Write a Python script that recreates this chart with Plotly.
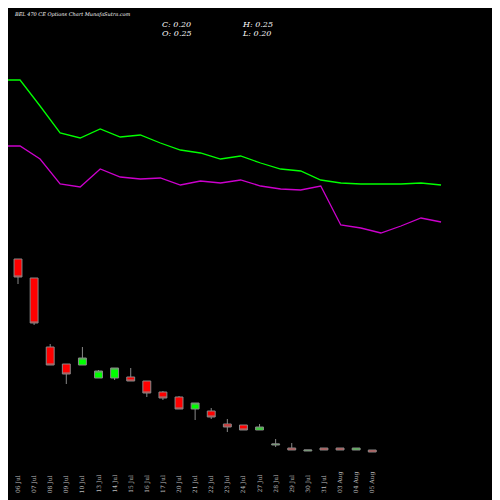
import plotly.graph_objects as go

dates = ["06 Jul","07 Jul","08 Jul","09 Jul","10 Jul","13 Jul","14 Jul","15 Jul","16 Jul","17 Jul",
         "20 Jul","21 Jul","22 Jul","23 Jul","24 Jul","27 Jul","28 Jul","29 Jul","30 Jul","31 Jul",
         "03 Aug","04 Aug","05 Aug"]
opens  = [5.075,4.6,2.875,2.45,2.425,2.1,2.1,2.125,2.025,1.75,1.625,1.325,1.275,0.95,0.925,0.8,0.425,0.35,0.275,0.35,0.35,0.3,0.3]
highs  = [5.075,4.6,2.95,2.45,2.875,2.3,2.35,2.35,2.025,1.775,1.65,1.475,1.35,1.075,0.925,0.95,0.575,0.475,0.3,0.35,0.35,0.35,0.3]
lows   = [4.45,3.425,2.425,1.95,2.425,2.1,2.05,2.025,1.625,1.55,1.325,1.05,1.075,0.75,0.8,0.8,0.375,0.3,0.275,0.3,0.3,0.3,0.25]
closes = [4.625,3.475,2.425,2.2,2.6,2.275,2.35,2.025,1.725,1.6,1.325,1.475,1.125,0.875,0.8,0.875,0.45,0.3,0.3,0.3,0.3,0.35,0.25]
green_line = [9.55,9.55,8.9,8.225,8.1,8.325,8.125,8.175,7.975,7.8,7.725,7.575,7.65,7.475,7.325,7.275,7.05,6.975,6.95,6.95,6.95,6.975,6.925]
magenta_line = [7.9,7.9,7.575,6.95,6.875,7.325,7.125,7.075,7.1,6.925,7.025,6.975,7.05,6.9,6.825,6.8,6.9,5.925,5.85,5.725,5.9,6.1,6.0]

idx = list(range(len(dates)))
fig = go.Figure()
fig.add_trace(go.Scatter(x=idx, y=green_line, xaxis="x2", mode="lines",
                         line=dict(color="#00ff00", width=1.3), hoverinfo="skip"))
fig.add_trace(go.Scatter(x=idx, y=magenta_line, xaxis="x2", mode="lines",
                         line=dict(color="#cc00cc", width=1.3), hoverinfo="skip"))
fig.add_trace(go.Candlestick(x=idx, open=opens, high=highs, low=lows, close=closes,
                             increasing=dict(line=dict(color="#888888", width=1), fillcolor="#00ff00"),
                             decreasing=dict(line=dict(color="#888888", width=1), fillcolor="#ff0000"),
                             whiskerwidth=0))
for i, d in enumerate(dates):
    fig.add_annotation(x=i, y=0.026, xref="x", yref="paper", text=d, textangle=-90,
                       showarrow=False, yanchor="bottom",
                       font=dict(size=6, color="#bbbbbb", family="DejaVu Serif"))
fig.add_annotation(x=0.008, y=0.988, xref="paper", yref="paper", xanchor="left", yanchor="middle",
                   text="<i>BEL 470 CE Options Chart MunafaSutra.com</i>", showarrow=False,
                   font=dict(size=5, color="white", family="DejaVu Serif"))
for t, xx, yy in [("C: 0.20",0.304,0.968),("O: 0.25",0.304,0.95),("H: 0.25",0.464,0.968),("L: 0.20",0.464,0.95)]:
    fig.add_annotation(x=xx, y=yy, xref="paper", yref="paper", xanchor="left", yanchor="middle",
                       text="<i>"+t+"</i>", showarrow=False,
                       font=dict(size=8, color="white", family="DejaVu Serif"))
fig.update_layout(width=500, height=500, margin=dict(l=0, r=0, t=0, b=0),
                  paper_bgcolor="black", plot_bgcolor="black", showlegend=False,
                  xaxis=dict(range=[-0.621, 30.43], visible=False, rangeslider=dict(visible=False)),
                  xaxis2=dict(range=[0.4, 25.34], overlaying="x", visible=False),
                  yaxis=dict(range=[-1.15, 11.35], visible=False))
fig.write_html("out.html")
